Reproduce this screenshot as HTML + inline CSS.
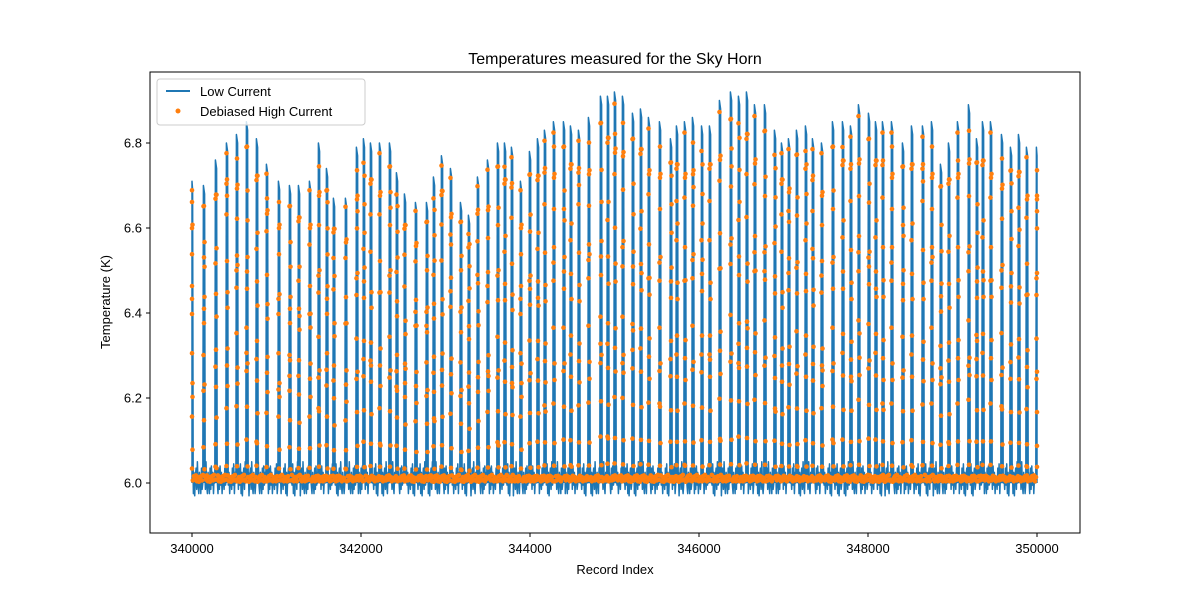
<!DOCTYPE html>
<html><head><meta charset="utf-8"><style>
body{margin:0;background:#fff;}
svg{display:block;font-family:"Liberation Sans","DejaVu Sans",sans-serif;}
</style></head><body>
<svg id="chart" width="1200" height="600">
<rect width="1200" height="600" fill="#fff"/>
<text x="615" y="64" text-anchor="middle" font-size="16">Temperatures measured for the Sky Horn</text>
<g id="plot"></g>
<rect x="150" y="72" width="930" height="461" fill="none" stroke="#000" stroke-width="1"/>
<g id="axes"></g>
<text x="615" y="574" text-anchor="middle" font-size="13">Record Index</text>
<text transform="translate(110,302) rotate(-90)" text-anchor="middle" font-size="13">Temperature (K)</text>
<g>
<rect x="157" y="79" width="208" height="46" rx="3" fill="#fff" fill-opacity="0.8" stroke="#ccc"/>
<line x1="166" y1="91" x2="190" y2="91" stroke="#1f77b4" stroke-width="2"/>
<text x="200" y="96" font-size="13">Low Current</text>
<circle cx="178" cy="111" r="2.5" fill="#ff7f0e"/>
<text x="200" y="116" font-size="13">Debiased High Current</text>
</g>
</svg>
<script>
const peakIdx=[340000,340142,340284,340414,340533,340651,340769,340888,341030,341160,341266,341396,341503,341598,341680,341822,341953,342035,342118,342225,342343,342426,342521,342651,342781,342864,342959,343065,343183,343278,343385,343503,343621,343704,343787,343893,344000,344095,344178,344284,344402,344485,344580,344698,344840,344923,345006,345101,345219,345314,345408,345538,345669,345740,345834,345929,346036,346130,346249,346379,346473,346568,346663,346781,346899,346982,347065,347160,347266,347349,347456,347586,347704,347799,347893,348012,348095,348178,348284,348414,348521,348651,348757,348864,348959,349065,349195,349290,349361,349456,349586,349692,349787,349882,350000];
const peakTemp=[6.71,6.70,6.76,6.80,6.82,6.85,6.81,6.75,6.71,6.70,6.70,6.71,6.80,6.74,6.67,6.67,6.79,6.81,6.80,6.80,6.80,6.73,6.68,6.66,6.66,6.72,6.77,6.74,6.66,6.63,6.72,6.76,6.80,6.80,6.79,6.71,6.78,6.81,6.83,6.85,6.85,6.84,6.83,6.86,6.91,6.91,6.92,6.91,6.87,6.88,6.86,6.85,6.81,6.84,6.85,6.86,6.84,6.84,6.90,6.92,6.91,6.92,6.89,6.89,6.83,6.80,6.81,6.83,6.84,6.81,6.80,6.85,6.85,6.84,6.89,6.87,6.85,6.85,6.85,6.80,6.84,6.84,6.85,6.75,6.80,6.85,6.89,6.81,6.85,6.85,6.82,6.79,6.82,6.79,6.79];
const baseNoise=[0.01,-0.02,0.03,-0.01,0.04,-0.03,0.02,-0.035,0.01,0.03,-0.02,0.045,-0.01,-0.03,0.02,0.0,-0.03,0.03,-0.02,0.035,-0.01,0.02,-0.03,0.01];
const dotFrac=[0.97,0.31,0.88,0.56,0.12,0.79,0.43,0.68,0.22,0.93,0.05,0.61,0.36];
const xTicks=[340000,342000,344000,346000,348000,350000];
const yTicks=[6.0,6.2,6.4,6.6,6.8];
const NS="http://www.w3.org/2000/svg";
function X(v){return 192+(v-340000)*0.0845;}
function Y(t){return 483-(t-6.0)*425;}
const plot=document.getElementById('plot');
const axes=document.getElementById('axes');
let d="";let first=true;
for(let i=0;i<peakIdx.length;i++){
  const p=peakIdx[i];
  const prev=i>0?peakIdx[i-1]:p-20;
  for(let r=prev+16,k=0;r<p-16;r+=8,k++){
    const n=baseNoise[(k+i*5)%baseNoise.length];
    d+=(first?"M":"L")+X(r).toFixed(1)+","+Y(6.005+n).toFixed(1);first=false;
  }
  d+=(first?"M":"L")+X(Math.max(340000,p-14)).toFixed(1)+","+Y(6.0).toFixed(1);first=false;
  d+="L"+X(Math.max(340000,p-7)).toFixed(1)+","+Y(peakTemp[i]).toFixed(1);
  d+="L"+X(Math.min(350000,p+7)).toFixed(1)+","+Y(peakTemp[i]-0.02).toFixed(1);
  d+="L"+X(Math.min(350000,p+14)).toFixed(1)+","+Y(6.0).toFixed(1);
}
const path=document.createElementNS(NS,'path');
path.setAttribute('d',d);path.setAttribute('fill','#1f77b4');
path.setAttribute('stroke','#1f77b4');path.setAttribute('stroke-width','1.5');path.setAttribute('stroke-linejoin','round');


plot.appendChild(path);
const g=document.createElementNS(NS,'g');g.setAttribute('fill','#ff7f0e');


plot.appendChild(g);
function dot(x,y){const c=document.createElementNS(NS,'circle');c.setAttribute('cx',x.toFixed(1));c.setAttribute('cy',y.toFixed(1));c.setAttribute('r','2.3');


g.appendChild(c);}
for(let i=0;i<peakIdx.length;i++){
  const p=peakIdx[i];const h=peakTemp[i]-6.0;
  for(let j=0;j<14;j++){
    const f=dotFrac[(j*7+i*5)%dotFrac.length]*(1-0.04*((i+j)%3));
    const off=((j+i)%3-1)*6;
    dot(X(Math.min(350000,Math.max(340000,p+off))),Y(6.0+h*f));
  }
  const prev=i>0?peakIdx[i-1]:p;
  for(let r=prev+10,k=0;r<p;r+=12,k++){dot(X(r),Y(6.01+baseNoise[(k+i)%baseNoise.length]*0.2));}
}
xTicks.forEach(v=>{const x=X(v);
  const l=document.createElementNS(NS,'line');l.setAttribute('x1',x);l.setAttribute('x2',x);l.setAttribute('y1',533);l.setAttribute('y2',537);l.setAttribute('stroke','#000');
  
  
  axes.appendChild(l);
  const t=document.createElementNS(NS,'text');t.setAttribute('x',x);t.setAttribute('y',553);t.setAttribute('text-anchor','middle');t.setAttribute('font-size','13');t.textContent=v;
  
  
  axes.appendChild(t);});
yTicks.forEach(v=>{const y=Y(v);
  const l=document.createElementNS(NS,'line');l.setAttribute('x1',146);l.setAttribute('x2',150);l.setAttribute('y1',y);l.setAttribute('y2',y);l.setAttribute('stroke','#000');
  
  
  axes.appendChild(l);
  const t=document.createElementNS(NS,'text');t.setAttribute('x',142);t.setAttribute('y',y+4.5);t.setAttribute('text-anchor','end');t.setAttribute('font-size','13');t.textContent=v.toFixed(1);
  
  
  axes.appendChild(t);});
</script>
</body></html>
